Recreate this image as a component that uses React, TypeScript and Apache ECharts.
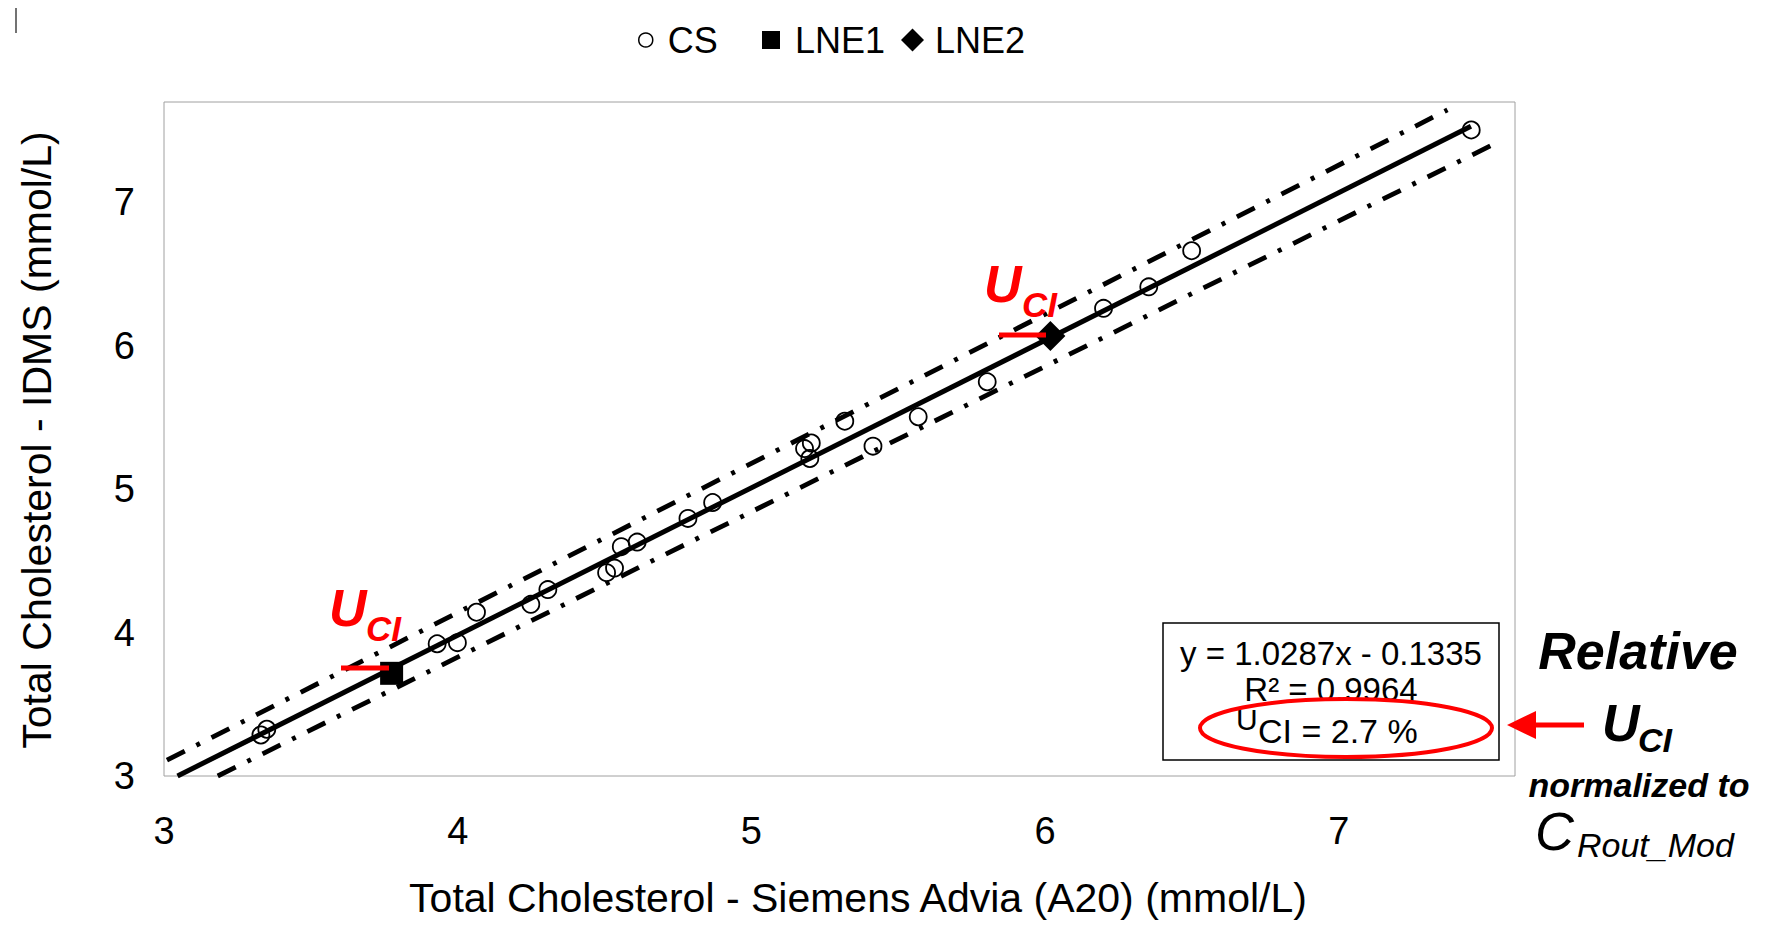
import React, { useEffect, useRef } from "react";
import * as echarts from "echarts";

// Commutable sample results (CS): x = Siemens Advia, y = IDMS, mmol/L
const csPoints: [number, number][] = [
  [3.33, 3.286],
  [3.35, 3.326],
  [3.93, 3.922],
  [3.999, 3.93],
  [4.064, 4.142],
  [4.249, 4.197],
  [4.307, 4.3],
  [4.507, 4.418],
  [4.534, 4.45],
  [4.557, 4.599],
  [4.611, 4.631],
  [4.784, 4.796],
  [4.868, 4.907],
  [5.181, 5.283],
  [5.204, 5.322],
  [5.199, 5.214],
  [5.318, 5.474],
  [5.414, 5.3],
  [5.568, 5.505],
  [5.803, 5.749],
  [6.199, 6.261],
  [6.353, 6.411],
  [6.499, 6.663],
  [7.451, 7.505],
];

// Reference materials
const lne1Points: [number, number][] = [[3.775, 3.716]];
const lne2Points: [number, number][] = [[6.018, 6.068]];

// Linear fit
const fitSlope = 1.0287;
const fitIntercept = -0.1335;
const fitR2 = 0.9964;
const fitXEnd = 7.45;
const uciPercent = 2.7;

// Uncertainty band limits (end points)
const upperBand: [number, number][] = [
  [3.01, 3.11],
  [7.37, 7.645],
];
const lowerBand: [number, number][] = [
  [3.183, 3.0],
  [7.528, 7.406],
];

const xRange = [3, 7.6];
const yRange = [3, 7.7];

const FONT = '"Liberation Sans", Arial, Helvetica, sans-serif';
const RED = "#ff0000";

const fitStartX = (yRange[0] - fitIntercept) / fitSlope;
const fitLine: [number, number][] = [
  [fitStartX, fitSlope * fitStartX + fitIntercept],
  [fitXEnd, fitSlope * fitXEnd + fitIntercept],
];

function txt(
  text: string,
  x: number,
  y: number,
  size: number,
  opts: { weight?: string; style?: string; color?: string; align?: string; rotation?: number } = {}
) {
  const align = opts.align || "left";
  return {
    type: "text",
    x,
    y,
    rotation: opts.rotation || 0,
    z: 20,
    style: {
      text,
      fontSize: size,
      fontFamily: FONT,
      fontWeight: opts.weight || "normal",
      fontStyle: opts.style || "normal",
      fill: opts.color || "#000",
      align,
      verticalAlign: "middle",
      textAlign: align,
      textVerticalAlign: "middle",
    },
  };
}

function legendText(padLeft: number) {
  return { fontSize: 36, fontFamily: FONT, color: "#000", lineHeight: 36, padding: [0, 0, 0, padLeft] };
}

const equationText = `y = ${fitSlope}x - ${Math.abs(fitIntercept)}`;
const r2Text = `R² = ${fitR2}`;
const uciText = `CI = ${uciPercent} %`;

const option: any = {
  animation: false,
  backgroundColor: "#ffffff",
  grid: {
    left: 164,
    top: 102,
    width: 1351,
    height: 674,
    show: true,
    borderColor: "#a0a0a0",
    borderWidth: 1,
    backgroundColor: "transparent",
  },
  legend: [
    {
      data: [{ name: "CS", icon: "circle" }],
      left: 638,
      top: 22,
      padding: 0,
      itemWidth: 14,
      itemHeight: 14,
      selectedMode: false,
      itemStyle: { color: "#ffffff", borderColor: "#000", borderWidth: 1.5 },
      textStyle: legendText(10),
    },
    {
      data: [{ name: "LNE1", icon: "rect" }],
      left: 762,
      top: 22,
      padding: 0,
      itemWidth: 18,
      itemHeight: 18,
      selectedMode: false,
      itemStyle: { color: "#000", borderWidth: 0, opacity: 1 },
      textStyle: legendText(10),
    },
    {
      data: [{ name: "LNE2", icon: "diamond" }],
      left: 901,
      top: 22,
      padding: 0,
      itemWidth: 23,
      itemHeight: 23,
      selectedMode: false,
      itemStyle: { color: "#000", borderWidth: 0, opacity: 1 },
      textStyle: legendText(6),
    },
  ],
  xAxis: {
    type: "value",
    min: xRange[0],
    max: xRange[1],
    interval: 1,
    axisLine: { show: false },
    axisTick: { show: false },
    splitLine: { show: false },
    axisLabel: {
      margin: 36,
      fontSize: 38,
      fontFamily: FONT,
      color: "#000",
      showMaxLabel: false,
      formatter: (v: number) => (Number.isInteger(v) ? String(v) : ""),
    },
  },
  yAxis: {
    type: "value",
    min: yRange[0],
    max: yRange[1],
    interval: 1,
    axisLine: { show: false },
    axisTick: { show: false },
    splitLine: { show: false },
    axisLabel: {
      margin: 29,
      fontSize: 38,
      fontFamily: FONT,
      color: "#000",
      showMaxLabel: false,
      formatter: (v: number) => (Number.isInteger(v) ? String(v) : ""),
    },
  },
  series: [
    {
      name: "Upper limit",
      type: "line",
      data: upperBand,
      showSymbol: false,
      symbol: "none",
      silent: true,
      z: 3,
      lineStyle: { color: "#000", width: 4.8, type: [20, 13, 4, 13], cap: "butt" },
    },
    {
      name: "Lower limit",
      type: "line",
      data: lowerBand,
      showSymbol: false,
      symbol: "none",
      silent: true,
      z: 3,
      lineStyle: { color: "#000", width: 4.8, type: [20, 13, 4, 13], cap: "butt" },
    },
    {
      name: "Linear fit",
      type: "line",
      data: fitLine,
      showSymbol: false,
      symbol: "none",
      silent: true,
      z: 3,
      lineStyle: { color: "#000", width: 5, type: "solid" },
    },
    {
      name: "CS",
      type: "scatter",
      data: csPoints,
      symbol: "circle",
      symbolSize: 17,
      z: 4,
      itemStyle: { color: "rgba(255,255,255,0)", borderColor: "#000", borderWidth: 1.8, opacity: 1 },
    },
    {
      name: "LNE1",
      type: "scatter",
      data: lne1Points,
      symbol: "rect",
      symbolSize: 23,
      z: 5,
      itemStyle: { color: "#000", opacity: 1 },
    },
    {
      name: "LNE2",
      type: "scatter",
      data: lne2Points,
      symbol: "diamond",
      symbolSize: 30,
      z: 5,
      itemStyle: { color: "#000", opacity: 1 },
    },
  ],
  graphic: [
    // small mark at the top-left corner
    { type: "line", shape: { x1: 16, y1: 8, x2: 16, y2: 33 }, style: { stroke: "#444", lineWidth: 1.5 } },
    // axis titles
    txt("Total Cholesterol - Siemens Advia (A20) (mmol/L)", 858, 898, 41, { align: "center" }),
    txt("Total Cholesterol - IDMS (mmol/L)", 37, 440, 41, { align: "center", rotation: Math.PI / 2 }),
    // U_CI callout at LNE1
    txt("U", 329, 608, 52, { weight: "bold", style: "italic", color: RED }),
    txt("CI", 366, 628, 35, { weight: "bold", style: "italic", color: RED }),
    { type: "line", z: 21, shape: { x1: 341, y1: 668, x2: 389, y2: 668 }, style: { stroke: RED, lineWidth: 5 } },
    // U_CI callout at LNE2
    txt("U", 984, 284, 52, { weight: "bold", style: "italic", color: RED }),
    txt("CI", 1022, 304, 35, { weight: "bold", style: "italic", color: RED }),
    { type: "line", z: 21, shape: { x1: 999, y1: 335, x2: 1046, y2: 335 }, style: { stroke: RED, lineWidth: 5 } },
    // regression summary box
    {
      type: "rect",
      z: 15,
      shape: { x: 1163, y: 623, width: 336, height: 137 },
      style: { fill: "#ffffff", stroke: "#000", lineWidth: 1.5 },
    },
    txt(equationText, 1331, 653, 33, { align: "center" }),
    txt(r2Text, 1331, 689, 33, { align: "center" }),
    txt("U", 1236, 719, 30),
    txt(uciText, 1258, 731, 34),
    {
      type: "ellipse",
      z: 22,
      shape: { cx: 1346, cy: 728, rx: 146, ry: 29 },
      style: { fill: "none", stroke: RED, lineWidth: 4 },
    },
    // arrow pointing at the U_CI value
    { type: "line", z: 21, shape: { x1: 1530, y1: 725, x2: 1584, y2: 725 }, style: { stroke: RED, lineWidth: 5 } },
    {
      type: "polygon",
      z: 21,
      shape: { points: [[1507, 725], [1536, 711], [1536, 739]] },
      style: { fill: RED },
    },
    // side note
    txt("Relative", 1638, 651, 52, { weight: "bold", style: "italic", align: "center" }),
    txt("U", 1602, 723, 52, { weight: "bold", style: "italic" }),
    txt("CI", 1638, 740, 34, { weight: "bold", style: "italic" }),
    txt("normalized to", 1639, 785, 34, { weight: "bold", style: "italic", align: "center" }),
    txt("C", 1535, 831, 54, { style: "italic" }),
    txt("Rout_Mod", 1577, 845, 34, { style: "italic" }),
  ],
};

export default function App() {
  const ref = useRef<HTMLDivElement>(null);
  useEffect(() => {
    if (!ref.current) return;
    const chart = echarts.init(ref.current, null, { renderer: "svg" });
    chart.setOption(option);
    return () => chart.dispose();
  }, []);
  return (
    <div
      ref={ref}
      style={{ position: "fixed", left: 0, top: 0, width: 1771, height: 925, background: "#fff" }}
    />
  );
}
